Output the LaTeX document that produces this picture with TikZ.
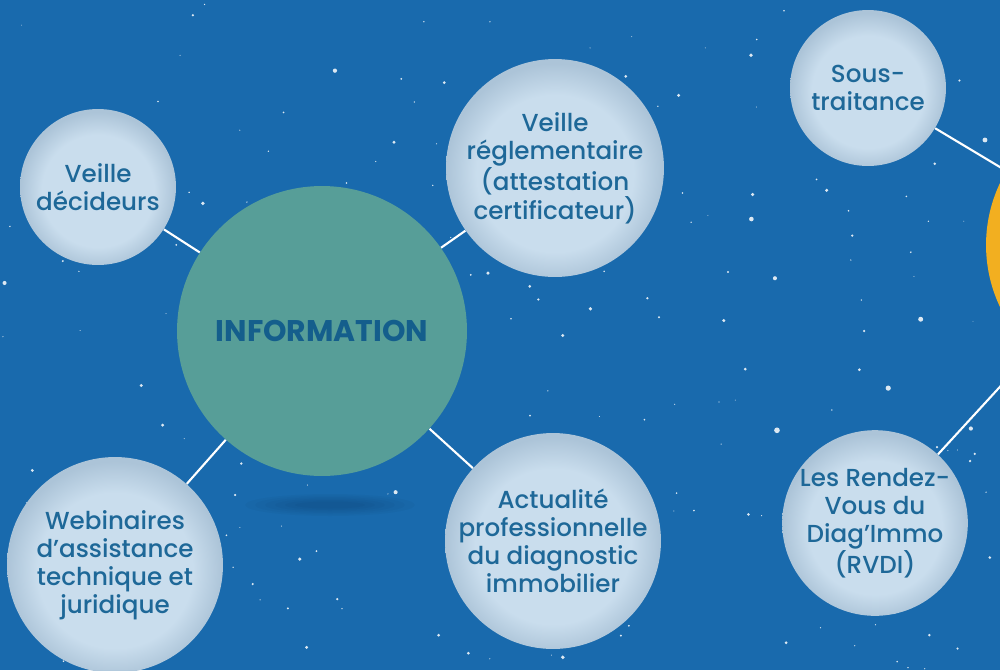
\documentclass[tikz,border=0pt]{standalone}
\usepackage{fontspec}
\setmainfont{Poppins}
\newfontfamily\mediumfont{Poppins Medium}
\usetikzlibrary{calc}

\definecolor{skyblue}{RGB}{25,106,173}
\definecolor{bubblein}{RGB}{201,221,237}
\definecolor{bubbleout}{RGB}{172,196,216}
\definecolor{inktext}{RGB}{30,104,152}
\definecolor{infoteal}{RGB}{87,158,152}
\definecolor{infoink}{RGB}{20,94,140}
\definecolor{sunny}{RGB}{242,175,32}

\pgfdeclareradialshading{bubbleshade}{\pgfpoint{0bp}{-2bp}}{%
  color(0bp)=(bubblein); color(18bp)=(bubblein);
  color(25bp)=(bubbleout); color(50bp)=(bubbleout)}

\begin{document}
\begin{tikzpicture}
  [
    x = 0.02cm, y = -0.02cm,
    every node/.style = {circle, inner sep = 0pt, align = center},
    bubble/.style = {shading = bubbleshade, minimum size = #1,
      text = inktext, font = \mediumfont\fontsize{14}{16}\selectfont},
    hub/.style = {fill = infoteal, minimum size = 5.8cm, text = infoink,
      font = \fontsize{17}{18}\selectfont\bfseries},
    link/.style = {draw = white, line width = 1.2pt}
  ]
  \path[use as bounding box] (0,0) rectangle (1000,670);
  \clip (0,0) rectangle (1000,670);
  \fill[skyblue] (0,0) rectangle (1000,670);

  % stars
  \pgfmathsetseed{4217}
  \foreach \s in {1,...,230} {
    \pgfmathsetmacro{\sx}{rnd*1000}
    \pgfmathsetmacro{\sy}{rnd*670}
    \pgfmathsetmacro{\sr}{0.25+rnd*rnd*1.4}
    \fill[white, opacity = 0.85] (\sx,\sy) circle (\sr pt);
  }

  % soft shadow under the hub
  \foreach \k in {1,...,6}
    \fill[black, opacity = 0.025] (330,505) ellipse ({0.5cm+0.2cm*\k} and {0.04cm+0.03cm*\k});

  \node[hub] (info) at (322,331) {INFORMATION};
  \node[fill = sunny, minimum size = 5.76cm] (other) at (1130,245) {};

  \node[bubble = 3.12cm] (decid) at (98,187) {Veille\\décideurs};
  \node[bubble = 4.36cm] (regl) at (555,168)
    {Veille\\réglementaire\\(attestation\\certificateur)};
  \node[bubble = 4.32cm] (webi) at (115,565)
    {Webinaires\\d’assistance\\technique et\\juridique};
  \node[bubble = 4.32cm] (actu) at (553,541)
    {Actualité\\professionnelle\\du diagnostic\\immobilier};
  \node[bubble = 3.12cm] (sous) at (868,88) {Sous-\\traitance};
  \node[bubble = 3.64cm] (rvdi) at (875,523)
    {Les Rendez-\\Vous du\\Diag’Immo\\(RVDI)};

  \draw[link] (info) -- (decid);
  \draw[link] (info) -- (regl);
  \draw[link] (info) -- (webi);
  \draw[link] (info) -- (actu);
  \draw[link] (other) -- (sous);
  \draw[link] (other) -- (rvdi);
\end{tikzpicture}
\end{document}
